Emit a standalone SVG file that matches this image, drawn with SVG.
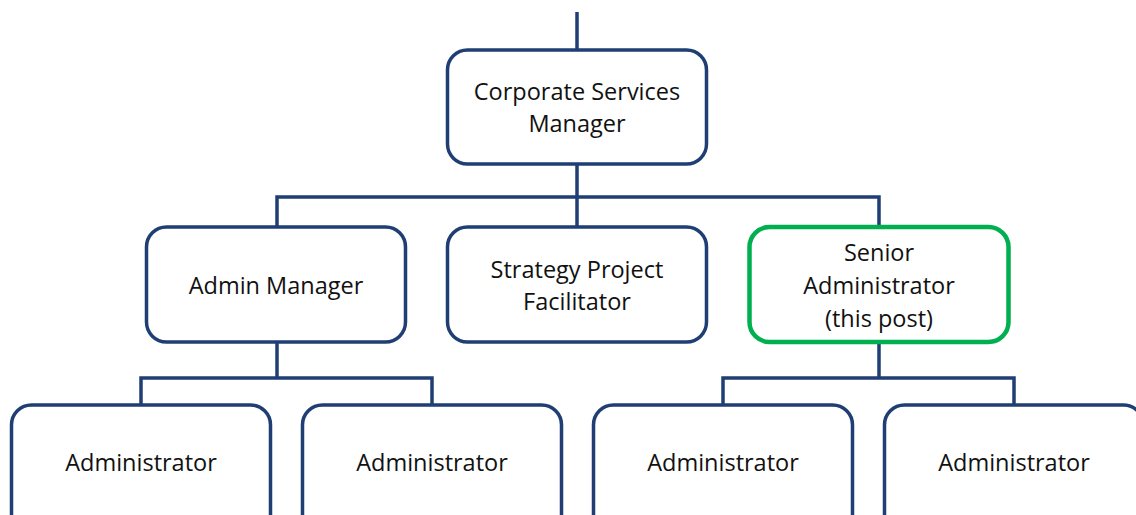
<svg xmlns="http://www.w3.org/2000/svg" width="1136" height="515" viewBox="0 0 1136 515">
<style>
.box{fill:#ffffff;stroke:#1F3F74;stroke-width:3.5}
.sel{fill:#ffffff;stroke:#00B050;stroke-width:4.5}
.ln{fill:none;stroke:#1F3F74;stroke-width:3.5}
text{font-family:"Open Sans","Noto Sans","Liberation Sans",sans-serif;font-size:23.5px;fill:#111111;text-anchor:middle}
</style>
<rect width="1136" height="515" fill="#ffffff"/>
<g id="connectors">
<path class="ln" d="M577 12V50"/>
<path class="ln" d="M577 164V227"/>
<path class="ln" d="M277 227V197H879V227"/>
<path class="ln" d="M277 342V378"/>
<path class="ln" d="M141 405V378H432V405"/>
<path class="ln" d="M879 342V378"/>
<path class="ln" d="M723 405V378H1014V405"/>
</g>
<g id="csm">
<rect class="box" x="447.5" y="50" width="259" height="114" rx="20"/>
<text x="577" y="100">Corporate Services</text>
<text x="577" y="132">Manager</text>
</g>
<g id="admin-manager">
<rect class="box" x="146.5" y="227" width="259" height="115" rx="20"/>
<text x="276" y="294">Admin Manager</text>
</g>
<g id="strategy">
<rect class="box" x="447.5" y="227" width="259" height="115" rx="20"/>
<text x="577" y="278">Strategy Project</text>
<text x="577" y="310">Facilitator</text>
</g>
<g id="senior">
<rect class="sel" x="749.5" y="227" width="259" height="115" rx="20"/>
<text x="879" y="261">Senior</text>
<text x="879" y="294">Administrator</text>
<text x="879" y="327">(this post)</text>
</g>
<g id="admin1">
<rect class="box" x="11.5" y="405" width="259" height="130" rx="20"/>
<text x="141" y="471">Administrator</text>
</g>
<g id="admin2">
<rect class="box" x="302.5" y="405" width="259" height="130" rx="20"/>
<text x="432" y="471">Administrator</text>
</g>
<g id="admin3">
<rect class="box" x="593.5" y="405" width="259" height="130" rx="20"/>
<text x="723" y="471">Administrator</text>
</g>
<g id="admin4">
<rect class="box" x="884.5" y="405" width="259" height="130" rx="20"/>
<text x="1014" y="471">Administrator</text>
</g>
</svg>
